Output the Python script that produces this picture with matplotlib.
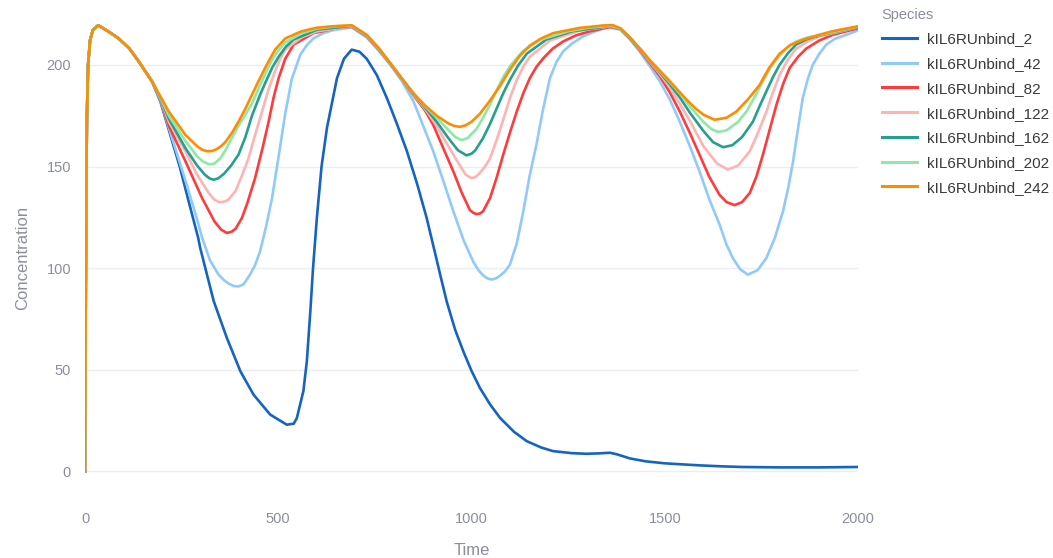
import matplotlib
matplotlib.use("Agg")
import matplotlib.pyplot as plt

plt.rcParams['font.family'] = ['Liberation Sans', 'DejaVu Sans']

# ---- data (time, concentration) ----
# common start-up transient shared by every run
rise_t = [0, 1, 2, 3, 5, 8, 13, 20, 34, 60, 87, 115, 139, 173]
rise_c = [0, 45, 90, 130, 175, 200, 212, 217, 219.5, 216.5, 213, 208, 201.7, 192]

t_2 = rise_t + [195, 220, 245, 268, 293, 298, 333, 367, 402, 436, 479, 522, 540, 548,
                565, 574, 583, 590, 600, 612, 626, 652, 670, 690, 710, 729, 755, 781, 807,
                833, 860, 884, 905, 920, 936, 958, 979, 1000, 1022, 1048, 1074, 1110, 1143,
                1180, 1211, 1260, 1298, 1330, 1358, 1375, 1410, 1450, 1500, 1589, 1650,
                1700, 1800, 1900, 2000]
c_2 = rise_c + [182, 166, 150, 133, 114.8, 110, 83.8, 65.7, 49.3, 37.8, 28, 23, 23.5, 26.2,
                39.5, 54.2, 78.8, 100, 125, 150, 169, 193.5, 203, 207.5, 206.5, 203, 195, 183.7, 171,
                157.5, 141, 124.7, 108, 96, 83.5, 69.5, 59, 49.5, 41, 33, 26.3, 19.5, 14.9,
                11.8, 10, 9, 8.7, 8.9, 9.2, 8.5, 6.4, 5, 4, 3, 2.5,
                2.2, 2, 2, 2.2]

t_42 = rise_t + [195, 217, 260, 290, 303, 323, 345, 360, 371, 385, 397, 410, 427, 440, 453, 468,
                 484, 501, 518, 535, 557, 575, 591, 615, 640, 690, 729, 760, 790, 820, 850, 875,
                 901, 927, 953, 980, 1005, 1018, 1030, 1041, 1052, 1064, 1075, 1087, 1099, 1117,
                 1134, 1150, 1168, 1185, 1203, 1220, 1237, 1260, 1289, 1320, 1350, 1385, 1410,
                 1435, 1461, 1487, 1513, 1539, 1565, 1590, 1615, 1642, 1660, 1676, 1695, 1715,
                 1740, 1763, 1785, 1806, 1820, 1832, 1845, 1857, 1870, 1883, 1900, 1918, 1940,
                 1970, 2000]
c_42 = rise_c + [182.6, 169, 143, 124, 115, 104, 97, 94, 92.5, 91.2, 91, 92, 96.8, 101.5, 108.3, 120,
                 134.5, 155, 176, 193, 205, 210, 213, 215.5, 217, 218.5, 213.5, 207, 200, 192, 182, 170,
                 157.5, 143, 128, 113.5, 103, 99, 96.5, 95, 94.4, 95, 96.5, 98.5, 101.6, 112,
                 128, 145, 160.8, 178, 193.5, 201.5, 206.6, 210.5, 214, 216.5, 218.5, 217.4, 212.5,
                 206.6, 199.5, 192, 183, 172, 160, 147.6, 134, 121.4, 111.5, 105, 99.5, 96.8,
                 99, 105, 115, 128, 140, 152.5, 169, 183.6, 193, 200, 205.5, 210, 212.8,
                 214.8, 217]

t_82 = rise_t + [195, 217, 260, 303, 335, 352, 367, 380, 390, 406, 420, 440, 458, 475, 488, 501,
                 518, 540, 591, 650, 690, 729, 760, 790, 820, 850, 880, 901, 927, 953, 975, 996,
                 1005, 1013, 1022, 1030, 1048, 1065, 1082, 1100, 1117, 1134, 1151, 1168, 1186,
                 1210, 1237, 1270, 1306, 1360, 1385, 1410, 1435, 1461, 1487, 1513, 1539, 1565,
                 1590, 1615, 1642, 1660, 1681, 1700, 1720, 1737, 1754, 1772, 1789, 1806, 1823,
                 1845, 1866, 1900, 1935, 2000]
c_82 = rise_c + [183, 170, 152.5, 134.5, 123, 119, 117.3, 118, 119.5, 124.7, 132, 144.3, 158, 172, 184, 193.5,
                 203, 210, 215.6, 218, 218.8, 214, 207.5, 200.5, 193, 185, 177.5, 170.5, 159, 147.6, 137, 128.5,
                 127.2, 126.6, 126.9, 128, 134.5, 144.5, 155.8, 167, 177, 186, 193.5, 199, 203.3,
                 208, 211.5, 214.5, 216.5, 218.7, 217.6, 213, 207.4, 201, 194.5, 186.5, 177, 166.5,
                 155.8, 145, 136, 132.5, 131, 132.5, 137, 145, 155.8, 168.5, 180.4, 190.5, 198.4,
                 204, 208, 212, 214.8, 218]

t_122 = rise_t + [195, 217, 260, 290, 320, 333, 346, 358, 370, 389, 405, 423, 440, 458, 475, 492,
                  505, 518, 560, 600, 690, 729, 760, 790, 820, 850, 880, 910, 940, 970, 985, 1000,
                  1010, 1020, 1035, 1048, 1065, 1082, 1100, 1117, 1135, 1151, 1203, 1280, 1360, 1385,
                  1410, 1435, 1461, 1487, 1513, 1539, 1565, 1600, 1635, 1663, 1690, 1720, 1740, 1763,
                  1780, 1797, 1820, 1840, 1870, 1900, 2000]
c_122 = rise_c + [183.4, 172, 157.5, 146, 137, 134, 132.5, 132.6, 133.5, 137.8, 145, 154, 165.5, 177, 188, 197,
                  203, 207.5, 213.5, 216.5, 219, 214.2, 207.7, 200.6, 193.1, 185.4, 178.3, 170, 160, 150.5, 146, 144.3,
                  144.8, 146.5, 150, 154, 163, 173, 184, 192.5, 199.5, 204, 212, 216.8, 219, 217.8,
                  213.2, 207.8, 201.6, 195.6, 189, 181, 172.5, 160, 151.5, 148.5, 150.5, 157.5, 166, 177,
                  186.5, 195, 203, 208, 211.5, 214, 218.5]

t_162 = rise_t + [195, 217, 260, 290, 310, 322, 333, 345, 360, 378, 397, 415, 432, 453, 466, 484,
                  501, 520, 540, 600, 690, 729, 760, 790, 820, 850, 880, 910, 940, 965, 987, 1000,
                  1010, 1030, 1048, 1065, 1082, 1099, 1120, 1143, 1194, 1260, 1360, 1385, 1410, 1435,
                  1461, 1487, 1513, 1539, 1565, 1600, 1625, 1651, 1675, 1700, 1728, 1745, 1763, 1780,
                  1797, 1820, 1840, 1870, 1900, 2000]
c_162 = rise_c + [183.7, 173.5, 159, 150.5, 146, 144.2, 143.5, 144.2, 146.5, 150.5, 155.8, 164.5, 175, 185.3, 191, 198.5,
                  204, 209, 212.5, 217.3, 219.2, 214.4, 207.9, 200.7, 193.2, 185.7, 179, 172, 164, 158, 155.5, 156.3,
                  158, 164, 171, 178.5, 186, 192.5, 199.5, 205.5, 212.5, 216.5, 219.2, 217.9, 213.3, 208,
                  202, 196.3, 190.5, 184, 176.5, 167.5, 162, 159.5, 160.5, 164.5, 172, 179.5, 187, 194,
                  200, 206, 210, 212.8, 214.4, 218.6]

t_202 = rise_t + [195, 217, 260, 290, 305, 322, 335, 350, 365, 380, 397, 415, 432, 442, 449, 466,
                  484, 500, 518, 560, 600, 650, 690, 729, 760, 790, 820, 850, 880, 910, 940, 958,
                  975, 990, 1000, 1013, 1030, 1048, 1065, 1082, 1100, 1134, 1180, 1250, 1300, 1360,
                  1385, 1410, 1435, 1461, 1487, 1513, 1539, 1565, 1600, 1620, 1638, 1660, 1690, 1711,
                  1735, 1754, 1775, 1797, 1820, 1840, 1870, 1900, 2000]
c_202 = rise_c + [184, 175, 162.5, 155, 152.5, 151, 151.5, 154, 158.5, 164, 170, 175.5, 181, 185.3, 188.5, 195.5,
                  202.5, 207, 211, 215.5, 217.8, 219, 219.3, 214.6, 208.1, 200.8, 193.2, 185.9, 179.6, 174, 168, 164.5,
                  163, 164, 166, 168.5, 174, 180.5, 187.5, 194, 199.5, 207, 212.5, 216.5, 218.2, 219.3,
                  217.9, 213.4, 208.1, 202.2, 196.8, 191.5, 186, 179.5, 172, 168.5, 167, 167.8, 172, 177,
                  185, 192, 199, 204.5, 209, 211.5, 213.5, 214.6, 218.8]

t_242 = rise_t + [195, 217, 260, 290, 303, 316, 328, 340, 352, 363, 380, 397, 415, 432, 449, 466,
                  480, 492, 518, 560, 600, 640, 690, 729, 760, 790, 820, 850, 880, 910, 940, 955,
                  970, 985, 1000, 1022, 1048, 1075, 1099, 1125, 1151, 1180, 1211, 1280, 1341, 1365,
                  1385, 1410, 1435, 1461, 1487, 1513, 1539, 1556, 1580, 1600, 1629, 1660, 1685, 1715,
                  1745, 1770, 1797, 1825, 1857, 1900, 1935, 2000]
c_242 = rise_c + [184.5, 177, 165.5, 160, 158.3, 157.5, 157.6, 158.5, 160, 162, 166.5, 172, 178.5, 185.3, 192, 198.5,
                  203.5, 207.5, 213, 216.5, 218.3, 219, 219.5, 214.8, 208.3, 200.8, 193.3, 186, 180, 175, 171.2, 170,
                  169.5, 170.3, 172, 176, 182.5, 190, 197.5, 204.5, 209.5, 213, 215.6, 218.2, 219.4, 219.6,
                  218, 213.5, 208.2, 202.4, 197.2, 192, 186.5, 183, 178.5, 175.5, 173, 174, 177, 183,
                  190, 198.5, 205.5, 209.8, 212.3, 214.8, 216.6, 219]

labels = ['kIL6RUnbind_2', 'kIL6RUnbind_42', 'kIL6RUnbind_82', 'kIL6RUnbind_122',
          'kIL6RUnbind_162', 'kIL6RUnbind_202', 'kIL6RUnbind_242']
colors = ['#1565c0', '#90caf9', '#ff3b3b', '#ffb3b3', '#26a08c', '#8ee8a6', '#ff8c00']
times = [t_2, t_42, t_82, t_122, t_162, t_202, t_242]
concs = [c_2, c_42, c_82, c_122, c_162, c_202, c_242]

fig = plt.figure(figsize=(10.53, 5.58), dpi=100)
ax = fig.add_axes([85 / 1053, 1 - 505 / 558, 773 / 1053, 495 / 558])

for t, c, lab, col in zip(times, concs, labels, colors):
    ax.plot(t, c, color=col, lw=1.9, label=lab, solid_joinstyle='round')

ax.set_xlim(0, 2000)
ax.set_ylim(-16.5, 227)
ax.set_xticks([0, 500, 1000, 1500, 2000])
ax.set_yticks([0, 50, 100, 150, 200])
ax.grid(axis='y', color='#ebedf2', lw=1)
ax.set_axisbelow(True)
for s in ax.spines.values():
    s.set_visible(False)
ax.tick_params(length=0, colors='#8a8f9c', labelsize=10.5)
ax.tick_params(axis='x', pad=5)
ax.tick_params(axis='y', pad=10)
ax.set_xlabel('Time', color='#8a8f9c', fontsize=12, labelpad=12)
ax.set_ylabel('Concentration', color='#8a8f9c', fontsize=12, labelpad=12)

leg = fig.legend(loc='upper left', bbox_to_anchor=(868 / 1053, 1 + 6 / 558), frameon=False,
                 title='Species', alignment='left', fontsize=11, title_fontsize=10.5,
                 handlelength=2.3, labelspacing=0.7, handletextpad=0.65)
leg.get_title().set_color('#8a8f9c')
for line in leg.get_lines():
    line.set_linewidth(2.2)
for txt in leg.get_texts():
    txt.set_color('#3a3a3a')

plt.savefig('out.png', dpi=100)
plt.close()
